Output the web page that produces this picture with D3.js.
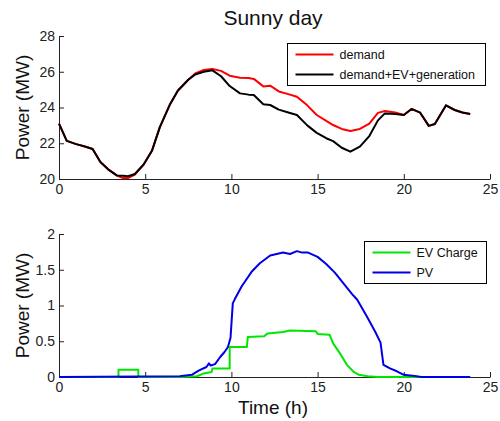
<!DOCTYPE html>
<html>
<head>
<meta charset="utf-8">
<script src="https://cdn.jsdelivr.net/npm/d3@7"></script>
<style>
  body { margin: 0; background: #fff; }
  svg { font-family: "Liberation Sans", Arial, sans-serif; }
  .axis path, .axis line { stroke: #222; }
  .axis text { fill: #222; font-size: 14px; }
</style>
</head>
<body>
<svg width="500" height="421"></svg>
<script>
// Top panel: demand vs net load (MW)
const loadTime = [0, 0.45, 1, 1.5, 1.95, 2.4, 2.85, 3.35, 3.7, 4.0, 4.4, 4.9, 5.4, 5.85, 6.45, 6.9,
  7.5, 7.9, 8.4, 8.9, 9.4, 9.9, 10.5, 11.0, 11.3, 11.85, 12.25, 12.75, 13.3, 13.8, 14.4, 14.95,
  15.5, 15.9, 16.4, 16.9, 17.45, 18.0, 18.5, 18.9, 19.5, 20.0, 20.45, 20.95, 21.45, 21.8, 22.45,
  22.95, 23.4, 23.85];
const demandMW = [23.1, 22.13, 21.95, 21.82, 21.68, 20.95, 20.54, 20.2, 20.05, 20.05, 20.25, 20.8,
  21.6, 22.9, 24.2, 24.95, 25.55, 25.9, 26.1, 26.15, 26.05, 25.78, 25.67, 25.65, 25.6, 25.18,
  25.22, 24.9, 24.75, 24.6, 24.12, 23.58, 23.25, 23.02, 22.8, 22.69, 22.8, 23.1, 23.7, 23.8,
  23.72, 23.58, 23.92, 23.71, 22.97, 23.08, 24.12, 23.86, 23.72, 23.64];
const netMW = [23.1, 22.13, 21.95, 21.82, 21.68, 20.95, 20.54, 20.2, 20.18, 20.15, 20.28, 20.8,
  21.6, 22.9, 24.2, 24.95, 25.55, 25.85, 26.0, 26.08, 25.75, 25.2, 24.79, 24.72, 24.7, 24.18,
  24.14, 23.88, 23.72, 23.58, 23.0, 22.58, 22.28, 22.12, 21.75, 21.53, 21.81, 22.4, 23.28, 23.67,
  23.64, 23.58, 23.92, 23.71, 22.97, 23.08, 24.12, 23.86, 23.72, 23.64];

// Bottom panel: EV charge and PV output (MW)
const evTime = [0, 3.45, 3.45, 4.6, 4.6, 7.0, 8.0, 8.4, 8.85, 8.9, 9.9, 9.9, 10.9, 10.95, 11.9,
  12.1, 13.0, 13.4, 14.9, 15.0, 15.7, 15.9, 16.3, 16.7, 17.1, 17.4, 17.9, 18.5, 23.85];
const evMW = [0, 0, 0.1, 0.1, 0, 0, 0.01, 0.05, 0.07, 0.12, 0.12, 0.42, 0.42, 0.56, 0.57,
  0.61, 0.63, 0.65, 0.64, 0.6, 0.59, 0.47, 0.33, 0.17, 0.07, 0.03, 0.01, 0, 0];
const pvTime = [0, 7.0, 7.7, 8.1, 8.55, 8.7, 8.8, 9.05, 9.35, 9.6, 9.8, 9.95, 10.08, 10.2, 10.6,
  11.2, 11.65, 12.25, 13.0, 13.4, 13.8, 14.1, 14.45, 15.0, 15.5, 16.0, 16.5, 17.0, 17.3, 17.85,
  18.35, 18.65, 18.82, 19.2, 19.6, 20.0, 20.75, 21.0, 23.85];
const pvMW = [0, 0.01, 0.03, 0.09, 0.14, 0.19, 0.16, 0.18, 0.28, 0.35, 0.42, 0.55, 1.03, 1.09,
  1.27, 1.48, 1.59, 1.70, 1.74, 1.72, 1.76, 1.74, 1.74, 1.68, 1.58, 1.46, 1.31, 1.16, 1.08, 0.85,
  0.63, 0.48, 0.17, 0.12, 0.08, 0.03, 0.01, 0, 0];

const xTicks = [0, 5, 10, 15, 20, 25];
const topTicks = [20, 22, 24, 26, 28];
const bottomTicks = [0, 0.5, 1, 1.5, 2];

const svg = d3.select('svg');

// Shared time axis
const x = d3.scaleLinear().domain([0, 25]).range([59, 490]);
const yTop = d3.scaleLinear().domain([20, 28]).range([179, 36]);
const yBot = d3.scaleLinear().domain([0, 2]).range([377, 234]);

const zip = (ts, vs) => ts.map((t, i) => ({ t, v: vs[i] }));

function drawAxes(y, ticks) {
  const y0 = y.range()[0];
  svg.append('g')
    .attr('class', 'axis')
    .attr('transform', `translate(0,${y0})`)
    .call(d3.axisBottom(x).tickValues(xTicks).tickSizeInner(-5).tickSizeOuter(0).tickPadding(5));
  svg.append('g')
    .attr('class', 'axis')
    .attr('transform', `translate(${x(0)},0)`)
    .call(d3.axisLeft(y).tickValues(ticks).tickFormat(d => String(d))
      .tickSizeInner(-5).tickSizeOuter(0).tickPadding(4));
}

function drawLine(y, data, color) {
  const line = d3.line().x(d => x(d.t)).y(d => y(d.v));
  svg.append('path')
    .datum(data)
    .attr('fill', 'none')
    .attr('stroke', color)
    .attr('stroke-width', 2)
    .attr('stroke-linejoin', 'round')
    .attr('d', line);
}

function drawLegend(x0, y0, w, h, items) {
  const g = svg.append('g').attr('transform', `translate(${x0},${y0})`);
  g.append('rect').attr('width', w).attr('height', h)
    .attr('fill', '#fff').attr('stroke', '#000').attr('stroke-width', 1);
  const row = g.selectAll('g').data(items).enter().append('g')
    .attr('transform', (d, i) => `translate(0,${11 + i * 20})`);
  row.append('line').attr('x1', 8).attr('x2', 46)
    .attr('stroke', d => d.color).attr('stroke-width', 2);
  row.append('text').attr('x', 52).attr('dy', '0.35em')
    .style('font-size', '12.5px').attr('fill', '#111')
    .text(d => d.name);
}

// Top panel
drawAxes(yTop, topTicks);
drawLine(yTop, zip(loadTime, demandMW), '#ff0000');
drawLine(yTop, zip(loadTime, netMW), '#000000');
drawLegend(287.5, 43.5, 198, 42, [
  { name: 'demand', color: '#ff0000' },
  { name: 'demand+EV+generation', color: '#000000' }
]);

// Bottom panel
drawAxes(yBot, bottomTicks);
drawLine(yBot, zip(evTime, evMW), '#00e600');
drawLine(yBot, zip(pvTime, pvMW), '#0000e6');
drawLegend(364.5, 241.5, 122, 42, [
  { name: 'EV Charge', color: '#00e600' },
  { name: 'PV', color: '#0000e6' }
]);

// Titles and labels
svg.append('text').attr('x', 273).attr('y', 25).attr('text-anchor', 'middle')
  .style('font-size', '21px').attr('fill', '#111').text('Sunny day');
[yTop, yBot].forEach(y => {
  const cy = (y.range()[0] + y.range()[1]) / 2;
  svg.append('text')
    .attr('transform', `translate(29,${cy}) rotate(-90)`)
    .attr('text-anchor', 'middle')
    .style('font-size', '19px').attr('fill', '#111')
    .text('Power (MW)');
});
svg.append('text').attr('x', 273).attr('y', 414).attr('text-anchor', 'middle')
  .style('font-size', '19px').attr('fill', '#111').text('Time (h)');
</script>
</body>
</html>
